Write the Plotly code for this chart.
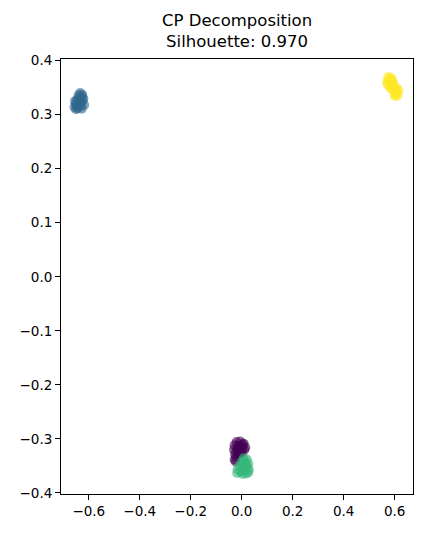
"""Scatter of the CP decomposition clusters, coloured by cluster label."""
import plotly.graph_objects as go

# cluster points
blue_x = [-0.634, -0.628, -0.640, -0.646, -0.624, -0.651, -0.636, -0.618,
          -0.656, -0.644, -0.628, -0.654, -0.638, -0.621, -0.648, -0.632,
          -0.642, -0.630, -0.650, -0.626]
blue_y = [0.340, 0.334, 0.336, 0.328, 0.326, 0.320, 0.322, 0.318,
          0.314, 0.312, 0.311, 0.325, 0.330, 0.330, 0.316, 0.315,
          0.319, 0.323, 0.310, 0.337]

yellow_x = [0.575, 0.585, 0.570, 0.592, 0.580, 0.596, 0.588, 0.600,
            0.605, 0.598, 0.610, 0.603, 0.612, 0.590, 0.582, 0.615,
            0.578, 0.594, 0.572, 0.606]
yellow_y = [0.370, 0.368, 0.362, 0.360, 0.356, 0.352, 0.348, 0.346,
            0.340, 0.338, 0.342, 0.334, 0.336, 0.364, 0.350, 0.345,
            0.364, 0.356, 0.356, 0.350]

purple_x = [-0.020, -0.006, 0.008, -0.028, -0.012, 0.002, 0.014, -0.030,
            -0.018, -0.002, 0.010, -0.026, -0.014, -0.008, -0.022, 0.004,
            -0.016, 0.000, -0.028, -0.024]
purple_y = [-0.306, -0.305, -0.309, -0.312, -0.313, -0.315, -0.316, -0.320,
            -0.321, -0.322, -0.320, -0.328, -0.327, -0.330, -0.333, -0.310,
            -0.317, -0.326, -0.338, -0.342]

green_x = [0.008, 0.020, 0.000, 0.014, 0.026, -0.008, 0.006, 0.022,
           -0.016, -0.002, 0.012, 0.028, -0.018, 0.004, 0.018, 0.026,
           0.010, -0.004, 0.016]
green_y = [-0.336, -0.338, -0.343, -0.345, -0.346, -0.350, -0.352, -0.353,
           -0.356, -0.358, -0.358, -0.357, -0.363, -0.365, -0.364, -0.362,
           -0.341, -0.361, -0.349]

clusters = [
    (purple_x, purple_y, '#440154'),
    (blue_x, blue_y, '#31688e'),
    (green_x, green_y, '#35b779'),
    (yellow_x, yellow_y, '#fde725'),
]

title_lines = ['CP Decomposition', 'Silhouette: 0.970']
x_ticks = [-0.6, -0.4, -0.2, 0.0, 0.2, 0.4, 0.6]
y_ticks = [-0.4, -0.3, -0.2, -0.1, 0.0, 0.1, 0.2, 0.3, 0.4]

fig = go.Figure()
for xs, ys, colour in clusters:
    fig.add_trace(go.Scatter(x=xs, y=ys, mode='markers',
                             marker=dict(size=10, color=colour, opacity=0.6,
                                         line=dict(width=0))))

axis_style = dict(showgrid=False, zeroline=False, showline=True, mirror=True,
                  linecolor='black', linewidth=1, ticks='outside', ticklen=5,
                  tickcolor='black', tickfont=dict(size=13.5, color='black'))

fig.update_xaxes(range=[-0.709, 0.672], tickvals=x_ticks,
                 ticktext=[f'{v:.1f}'.replace('-', '\u2212') for v in x_ticks],
                 **axis_style)
fig.update_yaxes(range=[-0.402, 0.403], tickvals=y_ticks,
                 ticktext=[f'{v:.1f}'.replace('-', '\u2212') for v in y_ticks],
                 **axis_style)

fig.add_annotation(text='<br>'.join(title_lines), xref='paper', yref='paper',
                   x=0.5, y=1, yanchor='bottom', showarrow=False, yshift=6,
                   font=dict(size=16.5, color='black'))

# the page body adds an 8px offset, so the figure is 8px smaller than the window
fig.update_layout(width=422, height=538, showlegend=False,
                  margin=dict(l=47, r=17, t=51, b=52),
                  plot_bgcolor='white', paper_bgcolor='white',
                  font=dict(family='DejaVu Sans'))

fig.write_html('out.html')
